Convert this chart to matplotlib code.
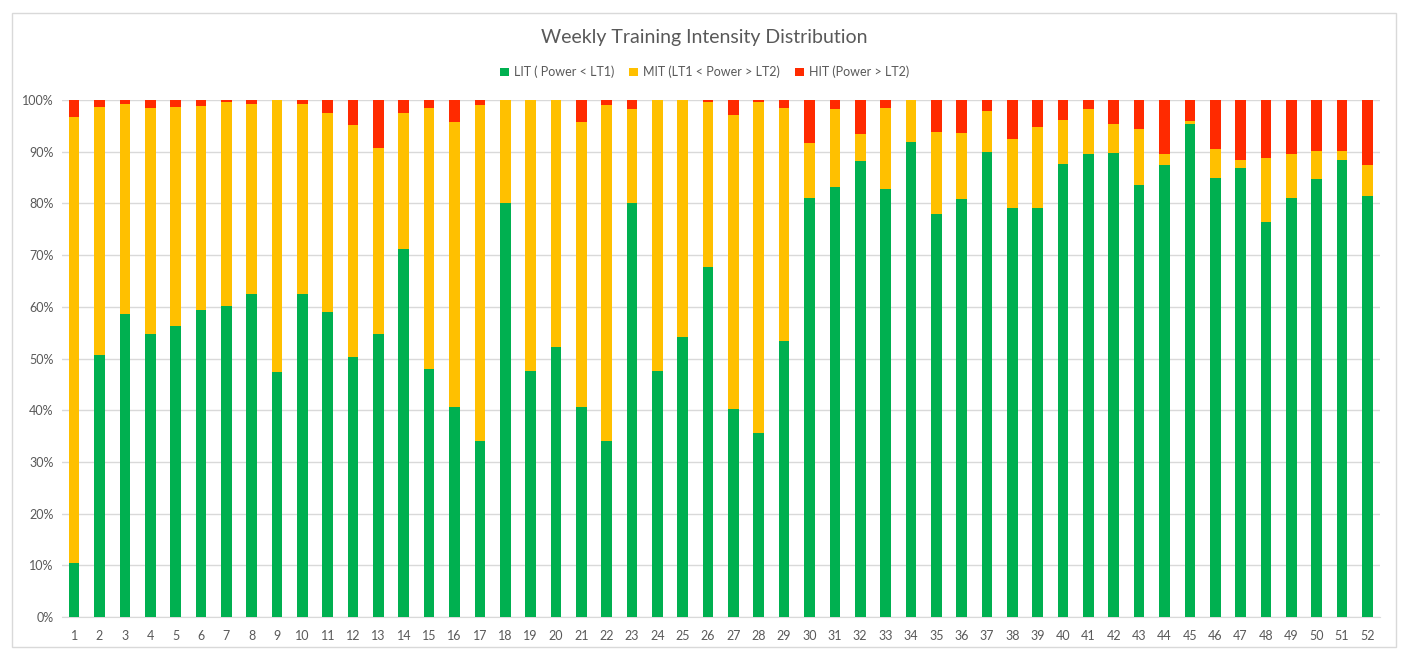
import matplotlib
matplotlib.use("Agg")
import matplotlib.pyplot as plt
import numpy as np

plt.rcParams['font.family'] = ['Lato', 'DejaVu Sans']

weeks = list(range(1, 53))
lit = [10.5, 50.7, 58.6, 54.8, 56.3, 59.4, 60.2, 62.5, 47.3, 62.5,
       59.0, 50.2, 54.8, 71.2, 47.9, 40.6, 34.0, 80.1, 47.6, 52.2,
       40.6, 34.0, 80.1, 47.6, 54.2, 67.7, 40.3, 35.6, 53.4, 81.0,
       83.2, 88.2, 82.8, 91.9, 78.0, 80.8, 90.0, 79.1, 79.1, 87.6,
       89.6, 89.8, 83.5, 87.4, 95.4, 84.9, 86.9, 76.4, 81.0, 84.7,
       88.4, 81.4]
lit_mit_top = [96.8, 98.6, 99.2, 98.4, 98.6, 98.9, 99.7, 99.3, 100, 99.3,
               97.5, 95.2, 90.8, 97.4, 98.4, 95.8, 99.0, 100, 100, 100,
               95.8, 99.0, 98.2, 100, 100, 99.6, 97.1, 99.7, 98.4, 91.6,
               98.2, 93.4, 98.4, 100, 93.8, 93.7, 97.8, 92.4, 94.8, 96.1,
               98.3, 95.4, 94.4, 89.6, 96.0, 90.5, 88.3, 88.8, 89.5, 90.1,
               90.1, 87.4]
mit = [round(t - l, 1) for t, l in zip(lit_mit_top, lit)]
hit = [round(100 - t, 1) for t in lit_mit_top]

labels = ["LIT ( Power < LT1)", "MIT (LT1 < Power > LT2)", "HIT (Power > LT2)"]
colors = ["#00B050", "#FFC000", "#FF2A00"]

fig = plt.figure(figsize=(14.09, 6.58), dpi=100)
ax = fig.add_axes([62/1409, 41/658, (1380-62)/1409, (617-100)/658])

x = np.array(weeks)
w = 0.42
lit_a = np.array(lit); mit_a = np.array(mit); hit_a = np.array(hit)
ax.bar(x, lit_a, width=w, color=colors[0], label=labels[0], zorder=3)
ax.bar(x, mit_a, width=w, bottom=lit_a, color=colors[1], label=labels[1], zorder=3)
ax.bar(x, hit_a, width=w, bottom=lit_a + mit_a, color=colors[2], label=labels[2], zorder=3)

ax.set_xlim(0.52, 52.5)
ax.set_ylim(0, 100)
ax.set_yticks(range(0, 101, 10))
ax.set_yticklabels([f"{v}%" for v in range(0, 101, 10)])
ax.set_xticks(x)
ax.set_xticklabels([str(v) for v in weeks])
ax.yaxis.grid(True, color="#D9D9D9", linewidth=1, zorder=0)
ax.set_axisbelow(True)
for s in ["top", "right", "left"]:
    ax.spines[s].set_visible(False)
ax.spines["bottom"].set_color("#D9D9D9")
ax.tick_params(axis="both", length=0, colors="#595959", labelsize=9)
ax.tick_params(axis="x", pad=9)
ax.tick_params(axis="y", pad=6)

fig.text(0.5, 1 - 37/658, "Weekly Training Intensity Distribution", ha="center", va="center",
         fontsize=14, color="#595959")
fig.legend(loc="center", bbox_to_anchor=(0.5, 1 - 72/658), ncol=3, frameon=False,
           fontsize=9, handlelength=0.7, handleheight=0.7, handletextpad=0.4,
           columnspacing=1.2, labelcolor="#595959")

# outer chart border
border = plt.Rectangle((12/1409, 11/658), (1396-12)/1409, (645-11)/658, transform=fig.transFigure,
                       fill=False, edgecolor="#D9D9D9", linewidth=1)
fig.patches.append(border)

fig.savefig("out.png", dpi=100)
